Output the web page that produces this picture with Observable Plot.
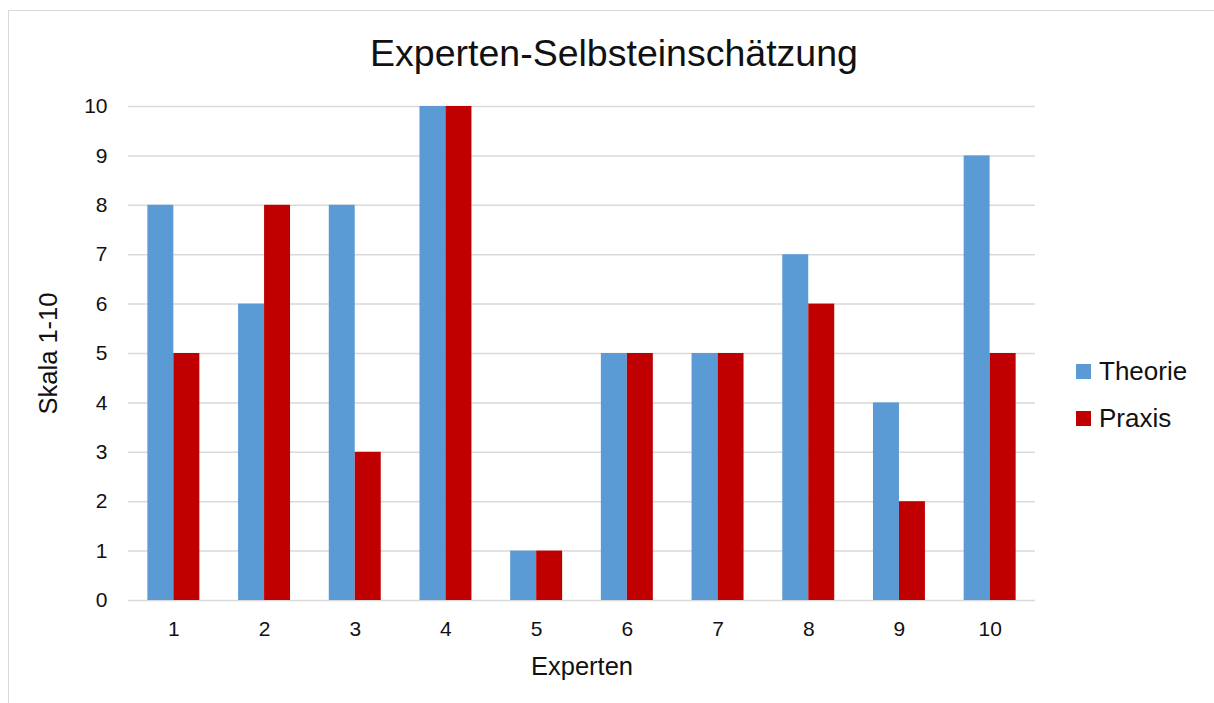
<!DOCTYPE html>
<html>
<head>
<meta charset="utf-8">
<script src="https://cdn.jsdelivr.net/npm/d3@7"></script>
<script src="https://cdn.jsdelivr.net/npm/@observablehq/plot@0.6"></script>
<style>
  html, body { margin: 0; padding: 0; background: #fff; }
  body { width: 1214px; height: 703px; overflow: hidden; font-family: "Liberation Sans", Arial, sans-serif; }
  #wrap { position: relative; width: 1214px; height: 703px; }
  #frame { position: absolute; left: 8px; top: 10px; width: 1220px; height: 720px; border-left: 1.5px solid #d9d9d9; border-top: 1.5px solid #d9d9d9; box-sizing: border-box; }
  #title { position: absolute; left: 0; width: 1228px; top: 35px; text-align: center; font-size: 37.5px; color: #111; line-height: 1; }
  #chart { position: absolute; left: 0; top: 0; }
  #legend { position: absolute; left: 1076px; top: 357px; font-size: 26px; color: #111; }
  .li { display: flex; align-items: center; height: 28px; margin-bottom: 19px; }
  .sw { width: 15px; height: 15px; margin-right: 8px; }
  #chart g[aria-label="y-axis tick label"], #chart g[aria-label="x-axis tick label"] { font-size: 21px !important; }
  #chart g[aria-label="y-axis label"], #chart g[aria-label="x-axis label"] { font-size: 25.5px !important; }
</style>
</head>
<body>
<div id="wrap">
  <div id="frame"></div>
  <div id="chart"></div>
  <div id="title">Experten-Selbsteinschätzung</div>
  <div id="legend"></div>
</div>
<script>
const experts = [1, 2, 3, 4, 5, 6, 7, 8, 9, 10];
const theorie = [8, 6, 8, 10, 1, 5, 5, 7, 4, 9];
const praxis  = [5, 8, 3, 10, 1, 5, 5, 6, 2, 5];
const seriesNames = ["Theorie", "Praxis"];
const seriesColors = ["#5B9BD5", "#C00000"];
const yTicks = [0, 1, 2, 3, 4, 5, 6, 7, 8, 9, 10];

const rowsT = experts.map((e, i) => ({expert: e, value: theorie[i], series: "Theorie"}));
const rowsP = experts.map((e, i) => ({expert: e, value: praxis[i], series: "Praxis"}));

const chart = Plot.plot({
  width: 1214,
  height: 703,
  marginLeft: 128,
  marginRight: 179,
  marginTop: 106,
  marginBottom: 103,
  style: {fontFamily: "'Liberation Sans', Arial, sans-serif", color: "#111", background: "transparent"},
  x: {type: "band", domain: experts, paddingInner: 0.427, paddingOuter: 0.2135, round: false, label: "Experten"},
  y: {domain: [0, 10], label: "Skala 1-10"},
  color: {domain: seriesNames, range: seriesColors},
  marks: [
    Plot.gridY(yTicks, {stroke: "#d9d9d9", strokeOpacity: 1, strokeWidth: 1.5}),
    Plot.barY(rowsT, {x: "expert", y: "value", fill: "series", insetRight: 26, insetLeft: 0}),
    Plot.barY(rowsP, {x: "expert", y: "value", fill: "series", insetLeft: 26, insetRight: 0}),
    Plot.axisY({ticks: yTicks, tickSize: 0, tickPadding: 21, label: "Skala 1-10", labelAnchor: "center", labelArrow: "none", labelOffset: 90}),
    Plot.axisX({tickSize: 0, tickPadding: 21, label: "Experten", labelAnchor: "center", labelArrow: "none", labelOffset: 74})
  ]
});
document.getElementById("chart").appendChild(chart);

const legend = document.getElementById("legend");
seriesNames.forEach((s, i) => {
  const row = document.createElement("div");
  row.className = "li";
  const sw = document.createElement("div");
  sw.className = "sw";
  sw.style.background = seriesColors[i];
  const t = document.createElement("span");
  t.textContent = s;
  row.appendChild(sw);
  row.appendChild(t);
  legend.appendChild(row);
});
</script>
</body>
</html>
